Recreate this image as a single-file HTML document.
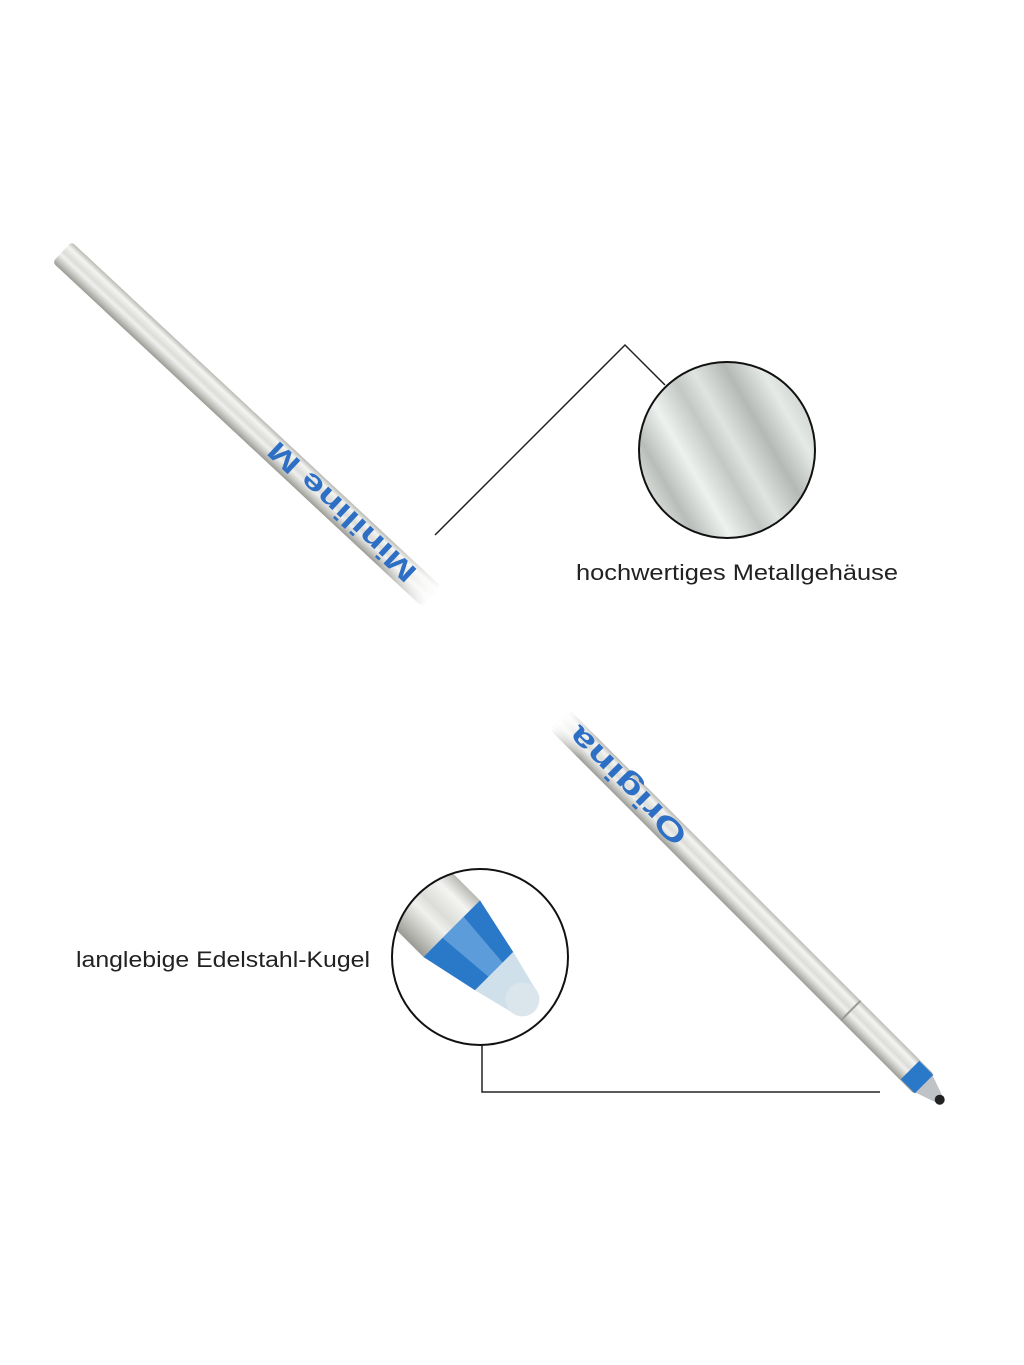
<!DOCTYPE html>
<html><head><meta charset="utf-8"><style>
html,body{margin:0;padding:0;background:#fff;}
svg{display:block;}
</style></head><body>
<svg width="1024" height="1365" viewBox="0 0 1024 1365" xmlns="http://www.w3.org/2000/svg">
<defs>
<linearGradient id="pen" x1="0" y1="0" x2="0" y2="1">
<stop offset="0" stop-color="#b9b9b4"/>
<stop offset="0.2" stop-color="#f4f4f2"/>
<stop offset="0.45" stop-color="#dcdcd8"/>
<stop offset="0.6" stop-color="#f0f0ee"/>
<stop offset="0.85" stop-color="#bdbdb8"/>
<stop offset="1" stop-color="#9a9a95"/>
</linearGradient>
<linearGradient id="fade" x1="0" y1="0" x2="1" y2="0">
<stop offset="0" stop-color="#fff" stop-opacity="1"/>
<stop offset="1" stop-color="#fff" stop-opacity="0"/>
</linearGradient>
<linearGradient id="stripes" x1="0" y1="0" x2="1" y2="0">
<stop offset="0" stop-color="#e8ecea"/>
<stop offset="0.15" stop-color="#b9bdb9"/>
<stop offset="0.3" stop-color="#eef2ef"/>
<stop offset="0.45" stop-color="#c4c8c4"/>
<stop offset="0.55" stop-color="#dfe4e0"/>
<stop offset="0.7" stop-color="#b5b9b5"/>
<stop offset="0.85" stop-color="#e6eae7"/>
<stop offset="1" stop-color="#c8ccc8"/>
</linearGradient>
<clipPath id="c1"><circle cx="727" cy="450" r="88"/></clipPath>
<clipPath id="c2"><circle cx="480" cy="957" r="88"/></clipPath>
</defs>

<!-- top pen -->
<g transform="translate(62,252) rotate(43)">
<rect x="0" y="-14" width="505" height="28" rx="4" fill="url(#pen)"/>
<rect x="440" y="-15" width="70" height="30" fill="url(#fade)" transform="rotate(180 475 0)"/>
<g transform="translate(478,0) scale(-1,-1)">
<text x="0" y="10" font-family="Liberation Sans, sans-serif" font-size="27" font-weight="bold" fill="#2d6fc4" textLength="192" lengthAdjust="spacingAndGlyphs">Miniline M</text>
</g>
</g>

<!-- top connector -->
<polyline points="435,535 625,345 665,385" fill="none" stroke="#222" stroke-width="1.5"/>
<g clip-path="url(#c1)">
<rect x="630" y="350" width="200" height="200" fill="#fff"/>
<g transform="rotate(-30 727 450)">
<rect x="627" y="330" width="200" height="240" fill="url(#stripes)"/>
</g>
</g>
<circle cx="727" cy="450" r="88" fill="none" stroke="#111" stroke-width="2"/>
<text x="576" y="580" font-family="Liberation Sans, sans-serif" font-size="22" fill="#222" textLength="322" lengthAdjust="spacingAndGlyphs">hochwertiges Metallgehäuse</text>

<!-- bottom pen -->
<g transform="translate(560,720) rotate(45)">
<rect x="0" y="-14" width="515" height="28" rx="3" fill="url(#pen)"/>
<rect x="0" y="-15" width="40" height="30" fill="url(#fade)"/>
<rect x="410" y="-14" width="2" height="28" fill="#999"/>
<rect x="495" y="-13" width="20" height="26" fill="#2a78c8"/>
<polygon points="515,-12 535,-5 535,5 515,12" fill="#bfc3c6"/>
<circle cx="537" cy="0" r="5" fill="#222"/>
<g transform="translate(172,0) scale(-1,-1)">
<text x="0" y="11" font-family="Liberation Sans, sans-serif" font-size="29" font-weight="bold" fill="#2d6fc4" textLength="155" lengthAdjust="spacingAndGlyphs">Origina</text>
</g>
</g>

<!-- bottom connector -->
<polyline points="482,1045 482,1092 880,1092" fill="none" stroke="#222" stroke-width="1.5"/>
<g clip-path="url(#c2)">
<rect x="390" y="868" width="180" height="180" fill="#fff"/>
<g transform="rotate(45 480 957)">
<rect x="360" y="917" width="80" height="80" fill="url(#pen)"/>
<polygon points="440,917 500,930 500,984 440,997" fill="#2a78c8"/>
<polygon points="440,940 500,945 500,965 440,970" fill="#7fb4e6" opacity="0.6"/>
<polygon points="500,930 540,940 540,974 500,984" fill="#cfe0ea"/>
<circle cx="540" cy="957" r="17" fill="#dbe6ec"/>
</g>
</g>
<circle cx="480" cy="957" r="88" fill="none" stroke="#111" stroke-width="2"/>
<text x="76" y="967" font-family="Liberation Sans, sans-serif" font-size="22" fill="#222" textLength="294" lengthAdjust="spacingAndGlyphs">langlebige Edelstahl-Kugel</text>
</svg>
</body></html>
